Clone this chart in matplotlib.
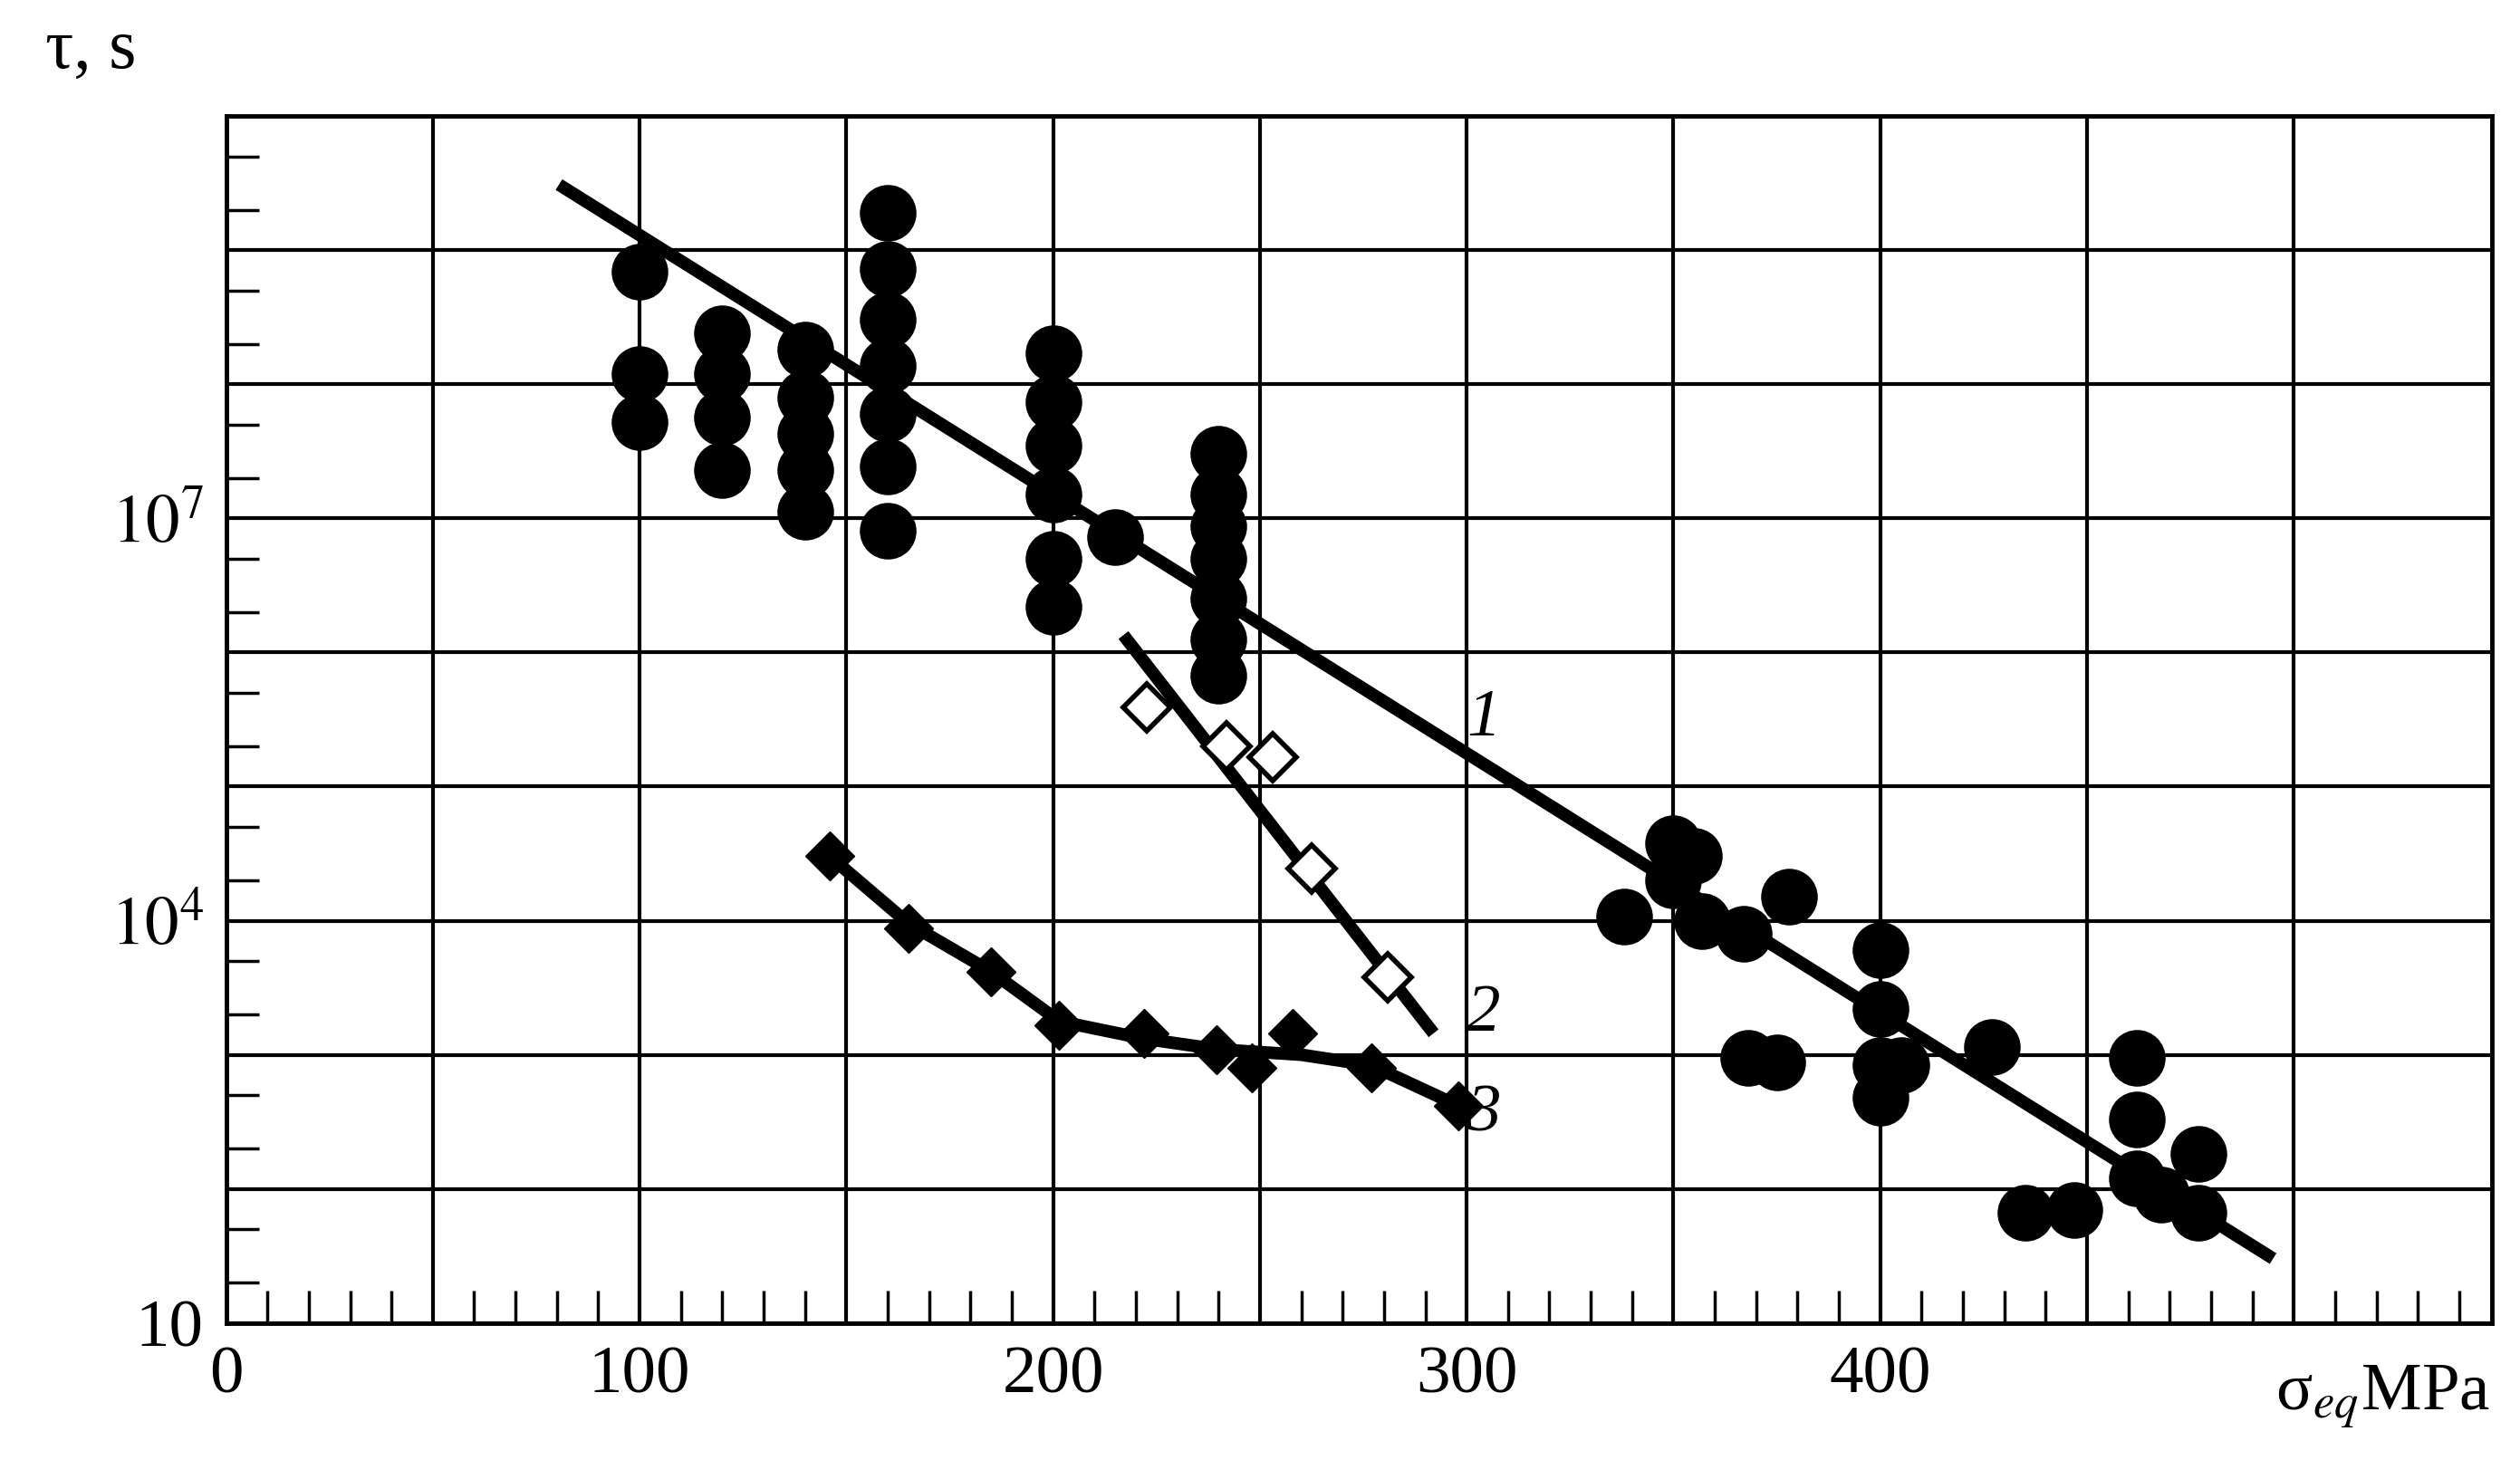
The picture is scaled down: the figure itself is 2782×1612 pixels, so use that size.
import numpy as np
import matplotlib.pyplot as plt
from matplotlib.ticker import FixedLocator, NullFormatter

plt.rcParams['font.family'] = ['Liberation Serif', 'DejaVu Serif']
plt.rcParams['mathtext.fontset'] = 'stix'

# series 1: filled circles (x in MPa, log10 of tau in s)
s1_x = [100, 100, 100, 120, 120, 120, 120, 140, 140, 140, 140, 140,
        160, 160, 160, 160, 160, 160, 160, 200, 200, 200, 200, 200, 200, 215,
        240, 240, 240, 240, 240, 240, 240, 338, 350, 350, 355, 357, 367, 368,
        375, 378, 400, 400, 400, 400, 405, 427, 435, 447, 462, 462, 462, 468,
        477, 477]
s1_logy = [8.84, 8.08, 7.72, 8.38, 8.08, 7.75, 7.36, 8.26, 7.90, 7.63, 7.36, 7.05,
           9.28, 8.86, 8.48, 8.14, 7.78, 7.39, 6.91, 8.23, 7.87, 7.54, 7.18, 6.70, 6.34, 6.86,
           7.48, 7.18, 6.94, 6.70, 6.40, 6.10, 5.83, 4.03, 4.58, 4.30, 4.48, 4.00, 3.90, 2.98,
           2.94, 4.18, 3.78, 3.34, 2.92, 2.68, 2.92, 3.06, 1.82, 1.84, 2.98, 2.52, 2.08, 1.96,
           2.26, 1.82]
line1_x = [80.5, 495]
line1_logy = [9.49, 1.48]

# series 2: open diamonds
s2_x = [222.6, 242, 253, 262.6, 281]
s2_logy = [5.59, 5.30, 5.22, 4.39, 3.58]
line2_x = [217, 292]
line2_logy = [6.13, 3.16]

# series 3: filled diamonds
s3_x = [146, 165, 185, 201.5, 222, 239.5, 248, 258, 277, 298]
s3_logy = [4.48, 3.94, 3.62, 3.22, 3.16, 3.04, 2.90, 3.16, 2.90, 2.62]
line3_x = [146, 165, 185, 201.5, 222, 240, 260, 277, 298]
line3_logy = [4.48, 3.98, 3.62, 3.25, 3.12, 3.04, 3.00, 2.92, 2.62]

fig = plt.figure(figsize=(27.82, 16.12), dpi=100)
ax = fig.add_axes([0.0897, 0.0939, 0.8993, 0.8265])

ax.plot(line1_x, 10**np.array(line1_logy), color='black', lw=10, solid_capstyle='butt', zorder=3)
ax.plot(line2_x, 10**np.array(line2_logy), color='black', lw=10, solid_capstyle='butt', zorder=3)
ax.plot(line3_x, 10**np.array(line3_logy), color='black', lw=10, zorder=3)

ax.plot(s1_x, 10**np.array(s1_logy), 'o', color='black', ms=44, ls='none', zorder=4)
ax.plot(s2_x, 10**np.array(s2_logy), 'D', mfc='white', mec='black', mew=4, ms=26, ls='none', zorder=4)
ax.plot(s3_x, 10**np.array(s3_logy), 'D', color='black', ms=28, ls='none', zorder=4)

ax.set_yscale('log')
ax.set_xlim(0, 548)
ax.set_ylim(10, 1e10)

ax.xaxis.set_major_locator(FixedLocator(np.arange(0, 501, 50)))
ax.set_xticklabels(['0', '', '100', '', '200', '', '300', '', '400', '', ''])
ax.xaxis.set_minor_locator(FixedLocator(np.arange(0, 541, 10)))
ax.yaxis.set_major_locator(FixedLocator([10.0**k for k in range(1, 11)]))
ax.set_yticklabels(['10', '', '', r'$10^4$', '', '', r'$10^7$', '', '', ''])
ax.yaxis.set_minor_locator(FixedLocator([m * 10.0**k for k in range(1, 10) for m in (2, 5)]))
ax.yaxis.set_minor_formatter(NullFormatter())

ax.grid(True, which='major', color='black', lw=3)
ax.tick_params(which='major', length=0, labelsize=54, pad=18)
ax.tick_params(which='minor', direction='in', length=26, width=2.5)
for sp in ax.spines.values():
    sp.set_linewidth(3.5)

ax.text(300, 10**5.5, '1', fontsize=54, style='italic', ha='left', va='center')
ax.text(300, 10**3.3, '2', fontsize=54, style='italic', ha='left', va='center')
ax.text(300, 10**2.55, '3', fontsize=54, style='italic', ha='left', va='center')

fig.text(0.018, 0.965, 'τ, s', fontsize=56, ha='left', va='center')
fig.text(0.988, 0.043, r'σ$_{eq}$MPa', fontsize=54, ha='right', va='center')

fig.savefig('out.png', dpi=100)
